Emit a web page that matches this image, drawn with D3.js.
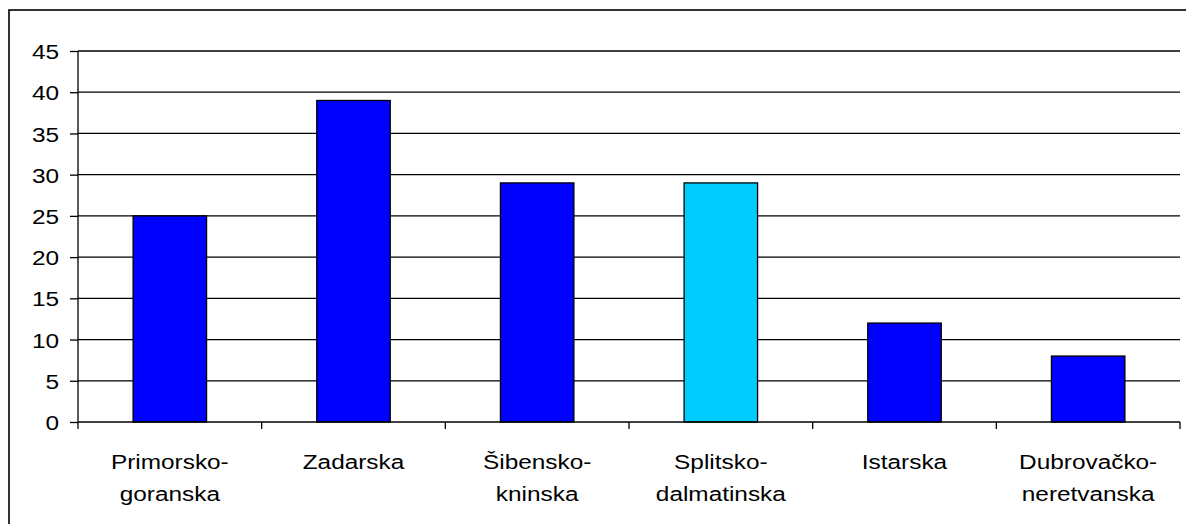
<!DOCTYPE html>
<html>
<head>
<meta charset="utf-8">
<script src="https://cdn.jsdelivr.net/npm/d3@7"></script>
<style>
    body { margin: 0; background: #fff; }
    svg text { font-family: "Liberation Sans", Arial, sans-serif; fill: #000; }
</style>
</head>
<body>
<div id="chart"></div>
<script>
// Chart data
const counties = ["Primorsko-goranska", "Zadarska", "Šibensko-kninska", "Splitsko-dalmatinska", "Istarska", "Dubrovačko-neretvanska"];
const labelLines = [["Primorsko-", "goranska"], ["Zadarska"], ["Šibensko-", "kninska"], ["Splitsko-", "dalmatinska"], ["Istarska"], ["Dubrovačko-", "neretvanska"]];
const values = [25, 39, 29, 29, 12, 8];
const highlighted = ["Splitsko-dalmatinska"];
const yTicks = [0, 5, 10, 15, 20, 25, 30, 35, 40, 45];

let width = 1186;
let height = 524;
let fontSize = 19.5;
let stretchX = 1.25; // the text in the original is a bit wider than plain Arial

let svg = d3.select("#chart")
    .append("svg")
    .attr("width", width)
    .attr("height", height);

// Outer frame (runs off the right and bottom edge)
svg.append("rect")
    .attr("x", 9)
    .attr("y", 10)
    .attr("width", 1200)
    .attr("height", 540)
    .attr("fill", "none")
    .attr("stroke", "#000")
    .attr("stroke-width", 1.6);

let plotLeft = 78, plotRight = 1180, plotTop = 51, plotBottom = 422;

let scaleX = d3.scaleBand()
    .domain(counties)
    .range([plotLeft, plotRight])
    .paddingInner(0.6)
    .paddingOuter(0.3);

let scaleY = d3.scaleLinear()
    .domain([0, 45])
    .range([plotBottom, plotTop]);

// Horizontal grid lines
svg.append("g")
    .selectAll("line")
    .data(yTicks.filter(d => d > 0))
    .enter().append("line")
    .attr("x1", plotLeft)
    .attr("x2", plotRight)
    .attr("y1", d => scaleY(d))
    .attr("y2", d => scaleY(d))
    .attr("stroke", "#000")
    .attr("stroke-width", 1.3);

// Bars
svg.append("g")
    .selectAll("rect")
    .data(counties)
    .enter().append("rect")
    .attr("x", d => scaleX(d))
    .attr("width", scaleX.bandwidth())
    .attr("y", (d, i) => scaleY(values[i]))
    .attr("height", (d, i) => plotBottom - scaleY(values[i]))
    .attr("fill", d => highlighted.includes(d) ? "#00ccff" : "#0000ff")
    .attr("stroke", "#000")
    .attr("stroke-width", 1.3);

// Y axis
let axisY = d3.axisLeft(scaleY).tickValues(yTicks).tickSize(8).tickPadding(0);
let gy = svg.append("g")
    .attr("transform", `translate(${plotLeft},0)`)
    .call(axisY);
gy.select(".domain").attr("stroke", "#000").attr("stroke-width", 1.3).attr("d", `M0,${plotTop}V${plotBottom}`);
gy.selectAll(".tick line").attr("stroke", "#000").attr("stroke-width", 1.3);
gy.selectAll(".tick text")
    .attr("font-size", fontSize + "px")
    .attr("font-family", "Liberation Sans, Arial, sans-serif")
    .attr("x", null)
    .attr("dy", null)
    .attr("dominant-baseline", "central")
    .attr("transform", `translate(-19,1) scale(${stretchX},1)`);

// X axis with ticks between categories
let step = scaleX.step();
let boundaries = d3.range(counties.length + 1).map(i => plotLeft + i * step);
let gx = svg.append("g");
gx.append("line")
    .attr("x1", plotLeft).attr("x2", plotRight)
    .attr("y1", plotBottom).attr("y2", plotBottom)
    .attr("stroke", "#000").attr("stroke-width", 1.3);
gx.selectAll(".xt")
    .data(boundaries)
    .enter().append("line")
    .attr("class", "xt")
    .attr("x1", d => d).attr("x2", d => d)
    .attr("y1", plotBottom).attr("y2", plotBottom + 7)
    .attr("stroke", "#000").attr("stroke-width", 1.3);

// Category labels
gx.selectAll(".lbl")
    .data(counties)
    .enter().append("text")
    .attr("class", "lbl")
    .attr("text-anchor", "middle")
    .attr("font-size", fontSize + "px")
    .attr("transform", d => `translate(${scaleX(d) + scaleX.bandwidth() / 2},469) scale(${stretchX},1)`)
    .each(function(d, i) {
        let t = d3.select(this);
        labelLines[i].forEach((line, j) => {
            t.append("tspan")
                .attr("x", 0)
                .attr("dy", j === 0 ? 0 : 32)
                .text(line);
        });
    });
</script>
</body>
</html>
